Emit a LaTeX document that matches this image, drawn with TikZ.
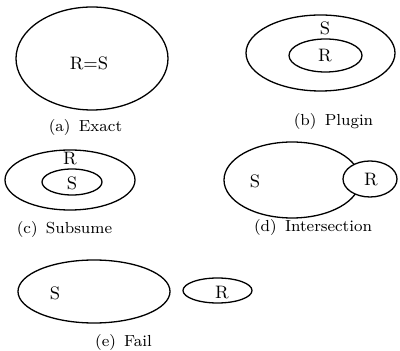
\documentclass[tikz,border=0pt]{standalone}
\usepackage{tikz}

\begin{document}
\begin{tikzpicture}[x=0.5pt,y=-0.5pt,line width=0.65pt,
  lbl/.style={font=\small,inner sep=0pt},
  subcap/.style={font=\footnotesize,inner sep=0pt}]
 \useasboundingbox (0,0) rectangle (400,351);
 \draw (92,58.5) ellipse [x radius=76,y radius=51.5];
 \node[lbl] (rsA) at (89,63) {R=S};
 \node[subcap] (capA) at (85.5,127.5) {(a)\ \,Exact};
 \draw (320.5,53) ellipse [x radius=74.5,y radius=38];
 \draw (325.5,55.5) ellipse [x radius=36.5,y radius=16.5];
 \node[lbl] (sB) at (325,28) {S};
 \node[lbl] (rB) at (325,56) {R};
 \node[subcap] (capB) at (333.5,122) {(b)\ \,Plugin};
 \draw (70,180) ellipse [x radius=65,y radius=30];
 \draw (72,182) ellipse [x radius=30,y radius=13];
 \node[lbl] (rC) at (70,159) {R};
 \node[lbl] (sC) at (72,183) {S};
 \node[subcap] (capC) at (64.5,230) {(c)\ \,Subsume};
 \draw (292,180) ellipse [x radius=68,y radius=38];
 \draw[fill=white] (370,179) ellipse [x radius=27,y radius=18];
 \node[lbl] (sD) at (255,181) {S};
 \node[lbl] (rD) at (371,180) {R};
 \node[subcap] (capD) at (313,228) {(d)\ \,Intersection};
 \draw (94,291.5) ellipse [x radius=76,y radius=31.5];
 \draw (217.5,290.5) ellipse [x radius=34.5,y radius=12.5];
 \node[lbl] (sE) at (55,293) {S};
 \node[lbl] (rE) at (222,293) {R};
 \node[subcap] (capE) at (123.5,342) {(e)\ \,Fail};
\end{tikzpicture}
\end{document}
